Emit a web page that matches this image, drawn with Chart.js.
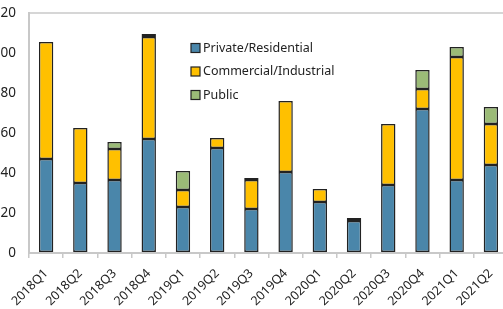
<!DOCTYPE html>
<html>
<head>
<meta charset="utf-8">
<script src="https://cdn.jsdelivr.net/npm/chart.js@4.4.1/dist/chart.umd.min.js"></script>
<style>
  html, body { margin: 0; padding: 0; background: #fff; overflow: hidden; }
  #wrap { position: absolute; left: -10px; top: 0; width: 518px; height: 309px; }
</style>
</head>
<body>
<div id="wrap"><canvas id="chart"></canvas></div>
<script>
// Quarters on the x axis
var quarters = ['2018Q1','2018Q2','2018Q3','2018Q4','2019Q1','2019Q2','2019Q3','2019Q4',
                '2020Q1','2020Q2','2020Q3','2020Q4','2021Q1','2021Q2'];

// Stacked series values, null = no segment
var privateRes   = [47, 35, 36.5, 57, 23, 52.5, 22, 40.5, 25.5, 16, 34, 72, 36.5, 44];
var commercial   = [58.5, 27.5, 15.5, 51, 8.5, 5, 14.5, 35.5, 6.5, 1.5, 30.5, 10, 61.5, 20.5];
var publicSector = [null, null, 3.5, 1.5, 9.5, null, 1, null, null, null, null, 9.5, 5, 8.5];

var seriesNames  = ['Private/Residential', 'Commercial/Industrial', 'Public'];
var seriesColors = ['#4a86aa', '#ffc000', '#9bbb77'];

var FONT = '"Noto Sans", "Open Sans", sans-serif';

// Legend drawn inside the plot area
var insideLegend = {
    id: 'insideLegend',
    afterDraw: function(chart) {
        var ctx = chart.ctx;
        var x = chart.chartArea.left + 162;
        var y = chart.chartArea.top + 35;
        ctx.save();
        ctx.font = '12.5px ' + FONT;
        ctx.textBaseline = 'middle';
        for (let i = 0; i < seriesNames.length; i++) {
            let cy = y + i * 23.5;
            ctx.fillStyle = seriesColors[i];
            ctx.fillRect(x, cy - 4.5, 9, 9);
            ctx.strokeStyle = '#222';
            ctx.lineWidth = 1.2;
            ctx.strokeRect(x, cy - 4.5, 9, 9);
            ctx.fillStyle = '#222';
            ctx.fillText(seriesNames[i], x + 12, cy);
        }
        ctx.restore();
    }
};

function makeSet(i, values) {
    return {
        label: seriesNames[i],
        data: values,
        backgroundColor: seriesColors[i],
        borderColor: '#222',
        borderWidth: 1.5,
        borderSkipped: false,
        categoryPercentage: 1,
        barPercentage: 0.42
    };
}

new Chart(document.getElementById('chart'), {
    type: 'bar',
    data: {
        labels: quarters,
        datasets: [makeSet(0, privateRes), makeSet(1, commercial), makeSet(2, publicSector)]
    },
    options: {
        responsive: true,
        maintainAspectRatio: false,
        animation: false,
        layout: { padding: { top: 13, right: 0, left: 0, bottom: 0 } },
        plugins: { legend: { display: false }, tooltip: { enabled: false } },
        scales: {
            x: {
                stacked: true,
                grid: { drawOnChartArea: false, drawTicks: true, tickLength: 5, color: '#c8c8c8', lineWidth: 1.5 },
                border: { color: '#c8c8c8', width: 2 },
                ticks: { color: '#222', font: { family: FONT, size: 12.5 }, maxRotation: 45, minRotation: 45, padding: 8 },
                afterFit: function(scale) {
                    scale.height = 56;
                    scale.paddingLeft = 0;
                    scale.paddingRight = 0;
                }
            },
            y: {
                stacked: true,
                min: 0, max: 120,
                grid: {
                    drawTicks: false,
                    color: function(c) { return c.tick && c.tick.value === 120 ? '#d6d6d6' : 'rgba(0,0,0,0)'; },
                    lineWidth: 2
                },
                border: { color: '#c8c8c8', width: 2 },
                ticks: { stepSize: 20, color: '#222', font: { family: FONT, size: 13.5 }, padding: 13 },
                afterFit: function(scale) {
                    scale.width = 39;
                    scale.paddingTop = 0;
                    scale.paddingBottom = 0;
                }
            }
        }
    },
    plugins: [insideLegend]
});
</script>
</body>
</html>
